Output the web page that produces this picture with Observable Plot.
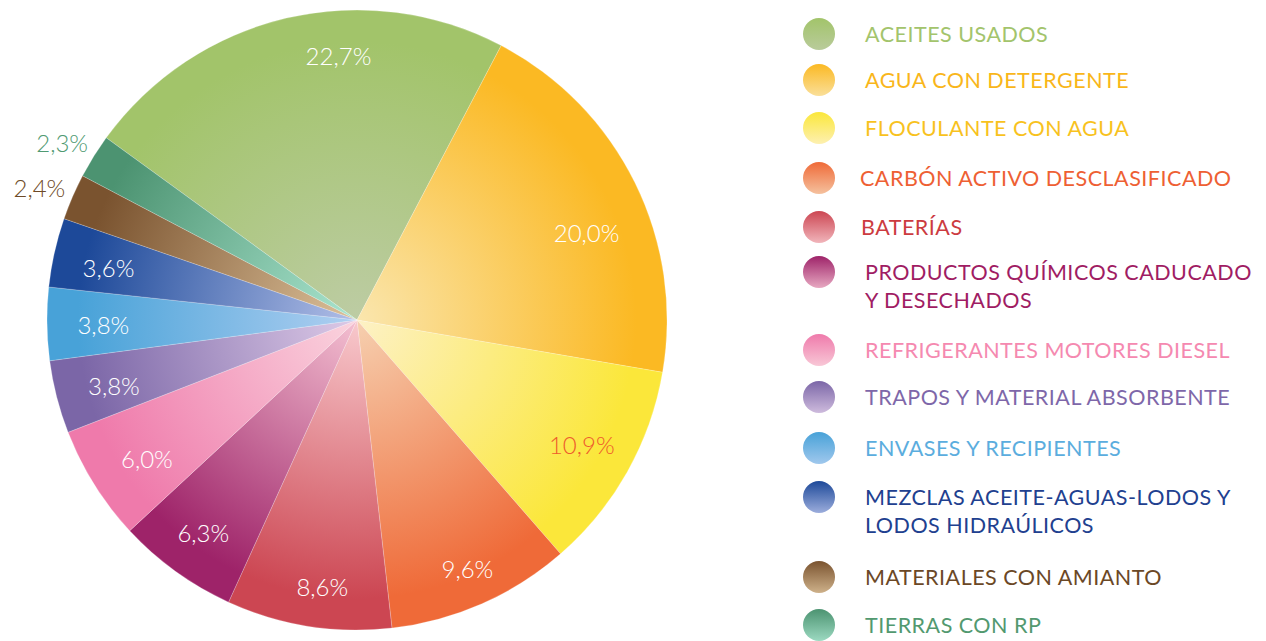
<!DOCTYPE html>
<html><head><meta charset="utf-8">
<script src="https://cdn.jsdelivr.net/npm/d3@7"></script>
<script src="https://cdn.jsdelivr.net/npm/@observablehq/plot@0.6"></script>
<style>
body{margin:0;background:#fff;}
#wrap{position:relative;width:1266px;height:641px;overflow:hidden;font-family:Lato,"Open Sans",sans-serif;}
#chart{position:absolute;left:0;top:0;}
.dot{position:absolute;left:803px;width:32px;height:32px;border-radius:50%;}
.lab{position:absolute;font-size:21.5px;line-height:28px;font-weight:400;letter-spacing:0.5px;white-space:nowrap;}
</style></head><body><div id="wrap"><div id="chart"></div><div id="legend"></div></div>
<script>
// ---- data ----
const categories = [
  "ACEITES USADOS",
  "AGUA CON DETERGENTE",
  "FLOCULANTE CON AGUA",
  "CARBÓN ACTIVO DESCLASIFICADO",
  "BATERÍAS",
  "PRODUCTOS QUÍMICOS CADUCADO\nY DESECHADOS",
  "REFRIGERANTES MOTORES DIESEL",
  "TRAPOS Y MATERIAL ABSORBENTE",
  "ENVASES Y RECIPIENTES",
  "MEZCLAS ACEITE-AGUAS-LODOS Y\nLODOS HIDRAÚLICOS",
  "MATERIALES CON AMIANTO",
  "TIERRAS CON RP"
];
const values = [22.7, 20.0, 10.9, 9.6, 8.6, 6.3, 6.0, 3.8, 3.8, 3.6, 2.4, 2.3];
const outerColors = ["#a2c46a","#fbb923","#fbe73a","#ef6a38","#cc4652","#9e2369","#ef7aab","#7b66a7","#48a2d8","#1d4999","#7a532f","#4c9371"];
const innerColors = ["#bdcca4","#fae6ae","#fdf1c6","#f6d0b0","#f8c9cd","#f4c0d1","#fad4de","#ddcae7","#b0cff1","#b2bfe8","#ddc19a","#aae5cf"];
const textColors  = ["#a3c46c","#f9b61a","#f8c21e","#ee6033","#cc3b40","#a01c63","#f589b0","#7e67a9","#5badde","#21408f","#6b4826","#52996f"];
const labelColors = ["#ffffff","#ffffff","#ee5a2c","#ffffff","#ffffff","#ffffff","#ffffff","#ffffff","#ffffff","#ffffff","#6e4a26","#4f9a72"];

// ---- layout ----
const startDeg = -54;
const labelNudge = [9, 5.6, 0, 0, -1.5, 0, -1.5, -1, -0.5, -1, -1, -1];
const labelR = [0.85, 0.79, 0.83, 0.88, 0.87, 0.85, 0.815, 0.815, 0.82, 0.82, 1.11, 1.11];
const legendY = [34, 80, 128, 178, 227, 272, 350, 397, 448, 497, 577, 625];
const legendTextX = [865, 865, 865, 860, 861, 865, 865, 865, 865, 865, 865, 865];

const fmt = v => d3.format(".1f")(v).replace(".", ",") + "%";
const rad = d => d * Math.PI / 180;
const total = d3.sum(values);
let acc = 0;
const slices = values.map((v, i) => {
  const a0 = startDeg + acc / total * 360; acc += v;
  const a1 = startDeg + acc / total * 360;
  return {i, a0, a1, mid: (a0 + a1) / 2};
});
const labels = slices.map((s, i) => {
  const a = rad(s.mid + labelNudge[i]);
  return {x: labelR[i] * Math.sin(a), y: -labelR[i] * Math.cos(a), text: fmt(values[i]), fill: labelColors[i]};
});

const pieMark = (index, scales) => {
  const cx = scales.x(0), cy = scales.y(0), R = scales.x(1) - cx;
  const g = d3.create("svg:g");
  const defs = g.append("defs");
  slices.forEach(s => {
    const gr = defs.append("radialGradient").attr("id", "pg" + s.i)
      .attr("gradientUnits", "userSpaceOnUse").attr("cx", 0).attr("cy", 0).attr("r", R);
    gr.append("stop").attr("offset", 0).attr("stop-color", innerColors[s.i]);
    gr.append("stop").attr("offset", 0.9).attr("stop-color", outerColors[s.i]);
    gr.append("stop").attr("offset", 1).attr("stop-color", outerColors[s.i]);
  });
  const arc = d3.arc().innerRadius(0).outerRadius(R);
  g.append("g").attr("transform", `translate(${cx},${cy})`)
    .selectAll("path").data(slices).join("path")
    .attr("d", s => arc({startAngle: rad(s.a0), endAngle: rad(s.a1)}))
    .attr("fill", s => `url(#pg${s.i})`)
    .attr("stroke", "#ffffff").attr("stroke-opacity", 0.35).attr("stroke-width", 0.6);
  return g.node();
};

const chart = Plot.plot({
  width: 790, height: 641, margin: 0,
  style: {fontFamily: "Lato, 'Open Sans', sans-serif", background: "transparent"},
  x: {domain: [-1, 1], range: [47, 667], axis: null},
  y: {domain: [-1, 1], range: [10, 630], axis: null},
  color: {type: "identity"},
  marks: [
    pieMark,
    Plot.text(labels, {x: "x", y: "y", text: "text", fill: "fill", fontSize: 24, fontWeight: 300})
  ]
});
document.getElementById("chart").appendChild(chart);

// legend
const leg = document.getElementById("legend");
categories.forEach((c, i) => {
  const d = document.createElement("div");
  d.className = "dot";
  d.style.top = (legendY[i] - 16) + "px";
  d.style.background = `linear-gradient(to bottom, ${outerColors[i]} 0%, ${d3.interpolateRgb(outerColors[i], innerColors[i])(0.85)} 100%)`;
  leg.appendChild(d);
  const t = document.createElement("div");
  t.className = "lab";
  t.style.left = legendTextX[i] + "px";
  t.style.top = (legendY[i] - 14) + "px";
  t.style.color = textColors[i];
  t.innerHTML = c.split("\n").join("<br>");
  leg.appendChild(t);
});
</script></body></html>
